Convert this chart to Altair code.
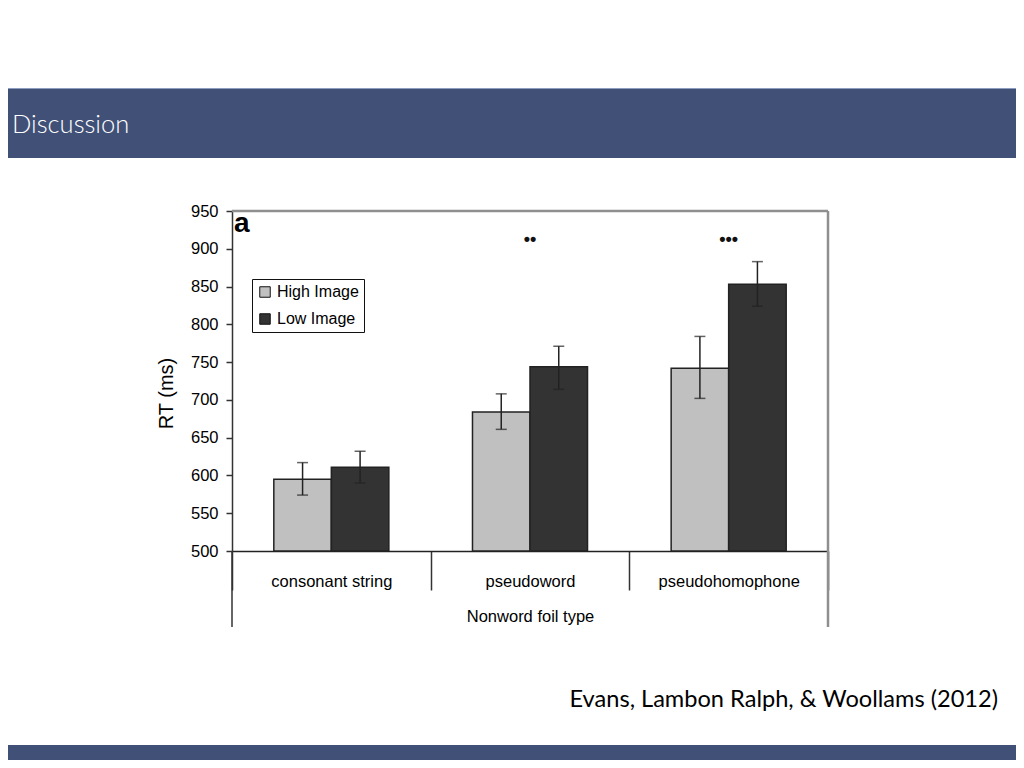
import altair as alt
import pandas as pd

# ---- data ----
categories = ["consonant string", "pseudoword", "pseudohomophone"]
groups = ["High Image", "Low Image"]
high_rt = [595, 684, 742]
low_rt = [611, 744, 853]
high_err_lo = [574, 661, 702]
high_err_hi = [617, 708, 784]
low_err_lo = [590, 714, 824]
low_err_hi = [632, 771, 883]
stars = ["", "••", "•••"]
star_level = 911
y_ticks = [500, 550, 600, 650, 700, 750, 800, 850, 900, 950]
y_domain = [500, 950]
panel_label = "a"
slide_title = "Discussion"
citation = "Evans, Lambon Ralph, & Woollams (2012)"

rows = []
for i, c in enumerate(categories):
    rows.append({"Type": c, "Image": groups[0], "RT": high_rt[i], "lo": high_err_lo[i], "hi": high_err_hi[i]})
    rows.append({"Type": c, "Image": groups[1], "RT": low_rt[i], "lo": low_err_lo[i], "hi": low_err_hi[i]})
df = pd.DataFrame(rows)
star_df = pd.DataFrame({"Type": categories, "Stars": stars})
one = pd.DataFrame({"k": [0]})

FONT = "Liberation Sans"
SLIDE_FONT = "Lato"
BAND = "#415077"
FRAME = "#8f8f8f"
W, H = 596, 340

x_axis = alt.Axis(
    title="Nonword foil type", labelAngle=0, tickBand="extent", tickSize=39,
    tickColor="#333333", tickWidth=1.5, domainColor="#222222", domainWidth=1.5,
    labelPadding=-17, titlePadding=18, labelFontSize=16.5, titleFontSize=16.5,
    titleFontWeight="normal", labelColor="black", titleColor="black",
    labelFont=FONT, titleFont=FONT,
)
x_enc = alt.X("Type:N", sort=categories, scale=alt.Scale(paddingInner=0, paddingOuter=0), axis=x_axis)
xoff = alt.XOffset("Image:N", sort=groups, scale=alt.Scale(paddingOuter=0.727, paddingInner=0))
y_axis = alt.Axis(
    values=y_ticks, title="RT (ms)", grid=False, tickSize=6, tickColor="#333333", tickWidth=1.5,
    domainColor="#333333", domainWidth=1.5, labelPadding=8, labelFontSize=16.5, labelFont=FONT,
    labelColor="black", labelOverlap=False, titleFont=FONT, titleFontSize=20, titleFontWeight="normal",
    titleColor="black", titlePadding=14, titleY=182,
)
y_scale = alt.Scale(domain=y_domain, nice=False, zero=False)

bars = alt.Chart(df).mark_bar(stroke="#222222", strokeWidth=1.5).encode(
    x=x_enc,
    xOffset=xoff,
    y=alt.Y("RT:Q", scale=y_scale, axis=y_axis),
    y2=alt.Y2Datum(500),
    fill=alt.Fill(
        "Image:N", sort=groups,
        scale=alt.Scale(domain=groups, range=["#c0c0c0", "#333333"]),
        legend=alt.Legend(
            title=None, orient="none", legendX=20, legendY=68, strokeColor="#111111",
            fillColor="white", padding=5, rowPadding=11, labelOffset=4,
            symbolType="square", symbolSize=110, symbolStrokeColor="#111111",
            symbolStrokeWidth=1, labelFontSize=16, labelFont=FONT, labelColor="black",
        ),
    ),
)

err = alt.Chart(df).mark_rule(color="#222222", strokeWidth=1.5).encode(
    x=x_enc, xOffset=xoff,
    y=alt.Y("lo:Q", scale=y_scale, axis=y_axis), y2="hi:Q",
)
cap_hi = alt.Chart(df).mark_tick(color="#222222", thickness=1.5, size=11, orient="horizontal").encode(
    x=x_enc, xOffset=xoff, y=alt.Y("hi:Q", scale=y_scale, axis=y_axis),
)
cap_lo = alt.Chart(df).mark_tick(color="#222222", thickness=1.5, size=11, orient="horizontal").encode(
    x=x_enc, xOffset=xoff, y=alt.Y("lo:Q", scale=y_scale, axis=y_axis),
)
star_txt = alt.Chart(star_df).mark_text(
    font=FONT, fontSize=18, fontWeight="bold", color="#111111", baseline="middle"
).encode(x=x_enc, y=alt.YDatum(star_level, scale=y_scale, axis=y_axis), text="Stars:N")

a_txt = alt.Chart(one).mark_text(
    font=FONT, fontSize=28, fontWeight="bold", color="black", align="left", baseline="alphabetic"
).encode(x=alt.value(2), y=alt.value(21), text=alt.value(panel_label))

frame_top = alt.Chart(one).mark_rule(color=FRAME, strokeWidth=2.5).encode(
    x=alt.value(0), x2=alt.value(W), y=alt.value(0))
frame_right = alt.Chart(one).mark_rule(color=FRAME, strokeWidth=2.5).encode(
    x=alt.value(W), y=alt.value(0), y2=alt.value(416))
ext_left = alt.Chart(one).mark_rule(color="#333333", strokeWidth=1.5).encode(
    x=alt.value(0), y=alt.value(H), y2=alt.value(416))

header = alt.Chart(one).mark_rect(color=BAND).encode(
    x=alt.value(-240), x2=alt.value(800), y=alt.value(-123), y2=alt.value(-53))
header_line = alt.Chart(one).mark_rule(color="#8e9cc0", strokeWidth=1).encode(
    x=alt.value(-240), x2=alt.value(800), y=alt.value(-122.5))
footer = alt.Chart(one).mark_rect(color=BAND).encode(
    x=alt.value(-240), x2=alt.value(800), y=alt.value(534), y2=alt.value(560))
title_txt = alt.Chart(one).mark_text(
    font=SLIDE_FONT, fontSize=25.5, fontWeight=300, color="white", align="left", baseline="alphabetic"
).encode(x=alt.value(-220), y=alt.value(-78), text=alt.value(slide_title))
cite_txt = alt.Chart(one).mark_text(
    font=SLIDE_FONT, fontSize=23.6, color="black", align="right", baseline="alphabetic"
).encode(x=alt.value(766), y=alt.value(496), text=alt.value(citation))

chart = alt.layer(
    header, header_line, footer, title_txt, cite_txt, frame_top, frame_right,
    bars, err, cap_hi, cap_lo, star_txt, a_txt, ext_left,
).properties(
    width=W, height=H,
    padding={"left": 224, "top": 203, "right": 188, "bottom": 209},
    autosize=alt.AutoSizeParams(type="none"),
).configure_view(
    stroke=None
).configure(background="white")

chart.save("out.html", embed_options={"renderer": "svg", "actions": False})
